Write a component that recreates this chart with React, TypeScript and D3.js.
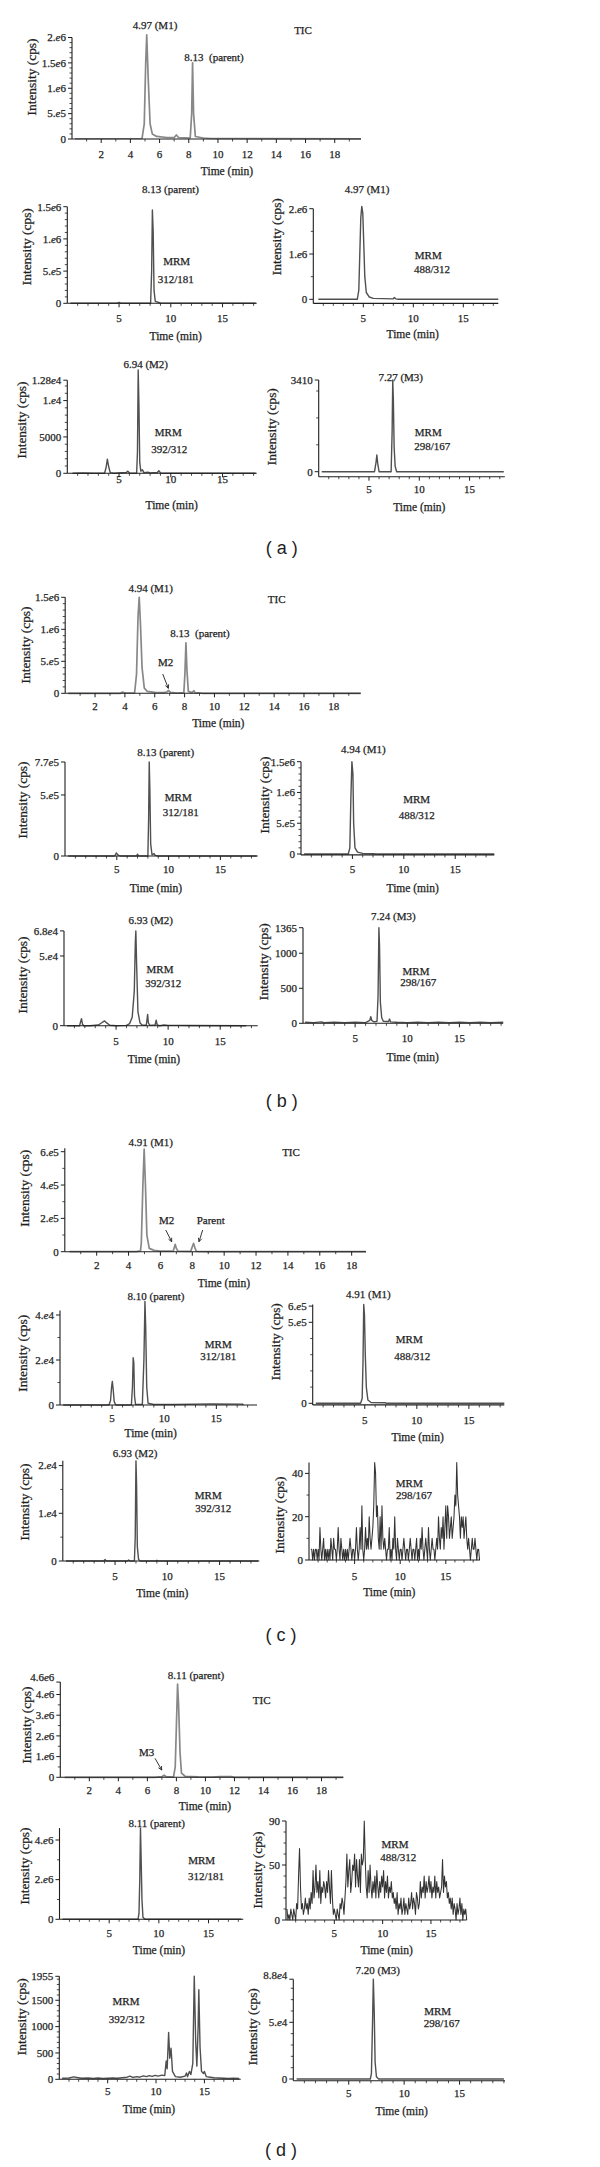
import React from 'react';
import * as d3 from 'd3';

type Pt = [number, number];

// ---------- DATA ----------
const ticXTicks = [2, 4, 6, 8, 10, 12, 14, 16, 18];
const mrmXTicks = [5, 10, 15];

// (a)
const aTic: Pt[] = [[0.2, 5e3], [4.8, 1e4], [4.95, 3e5], [5.05, 1.5e6], [5.12, 2.05e6], [5.22, 1.2e6], [5.35, 3e5], [5.5, 1e5], [5.8, 5e4], [6.5, 3e4], [7.0, 3e4], [7.15, 8e4], [7.3, 3e4], [8.1, 2e4], [8.2, 5e5], [8.26, 1.5e6], [8.33, 5e5], [8.45, 5e4], [9.0, 2e4], [9.5, 1e4], [19.8, 5e3]];
const aTicYTicks = [0, 5e5, 1e6, 1.5e6, 2e6];
const aTicYLabels = ['0', '5.e5', '1.e6', '1.5e6', '2.e6'];

const a312: Pt[] = [[0.3, 0], [4.8, 0], [5.0, 1.5e4], [5.2, 0], [8.05, 0], [8.15, 5e5], [8.22, 1.45e6], [8.3, 1.1e6], [8.38, 2e5], [8.5, 3e4], [9.0, 5e3], [18.2, 0]];
const a312YTicks = [0, 5e5, 1e6, 1.5e6];
const a312YLabels = ['0', '5.e5', '1.e6', '1.5e6'];

const a488: Pt[] = [[0.5, 0], [4.4, 0], [4.55, 2e5], [4.65, 1e6], [4.75, 1.8e6], [4.85, 2.05e6], [4.95, 1.9e6], [5.05, 1.2e6], [5.15, 5e5], [5.3, 1.5e5], [5.6, 5e4], [6.0, 2e4], [8.0, 1e4], [8.1, 4e4], [8.25, 1e4], [8.5, 0], [18.5, 0]];
const a488YTicks = [0, 1e6, 2e6];
const a488YLabels = ['0', '1.e6', '2.e6'];

const a392: Pt[] = [[0.5, 0], [1.5, 50], [2.5, 0], [3.6, 0], [3.75, 800], [3.87, 1950], [4.0, 900], [4.15, 100], [4.5, 0], [5.7, 100], [5.85, 300], [6.0, 50], [6.7, 0], [6.78, 3000], [6.85, 14200], [6.92, 9500], [7.0, 1500], [7.1, 300], [7.25, 500], [7.4, 100], [7.8, 150], [8.0, 50], [8.7, 100], [8.85, 350], [9.0, 50], [9.5, 0], [18.2, 0]];
const a392YTicks = [0, 5000, 1e4, 12800];
const a392YLabels = ['0', '5000', '1.e4', '1.28e4'];

const a298: Pt[] = [[0.3, 0], [5.55, 0], [5.7, 350], [5.78, 620], [5.87, 300], [6.0, 0], [7.2, 0], [7.3, 1500], [7.36, 3410], [7.42, 2700], [7.5, 900], [7.6, 200], [7.75, 0], [18.4, 0]];
const a298YTicks = [0, 3410];
const a298YLabels = ['0', '3410'];

// (b)
const bTic: Pt[] = [[0.2, 0], [3.7, 0], [3.85, 2e4], [4.0, 5e3], [4.65, 5e3], [4.78, 3e5], [4.88, 1.2e6], [4.96, 1.5e6], [5.04, 1.1e6], [5.15, 4e5], [5.3, 8e4], [5.5, 3e4], [6.0, 1.5e4], [6.6, 1e4], [6.8, 2e4], [6.92, 4.5e4], [7.05, 1.5e4], [7.5, 5e3], [7.95, 1e4], [8.02, 3e5], [8.09, 7.9e5], [8.16, 3.5e5], [8.25, 3e4], [8.5, 1e4], [8.62, 4e4], [8.7, 1e4], [9.1, 5e3], [9.2, 0], [19.8, 0]];
const bTicYTicks = [0, 5e5, 1e6, 1.5e6];
const bTicYLabels = ['0', '5.e5', '1.e6', '1.5e6'];

const b312: Pt[] = [[0.3, 0], [4.8, 0], [4.95, 2.5e4], [5.1, 1e4], [5.3, 0], [6.9, 0], [7.0, 1.5e4], [7.1, 0], [8.0, 0], [8.07, 3e5], [8.13, 7.7e5], [8.19, 5.5e5], [8.27, 1e5], [8.4, 1e4], [8.6, 2e4], [8.7, 5e3], [9.0, 0], [18.5, 0]];
const b312YTicks = [0, 5e5, 7.7e5];
const b312YLabels = ['0', '5.e5', '7.7e5'];

const b488: Pt[] = [[0.3, 0], [4.6, 0], [4.75, 1e5], [4.85, 9e5], [4.95, 1.5e6], [5.05, 1.3e6], [5.12, 5e5], [5.25, 1e5], [5.5, 3e4], [6.0, 1e4], [7.1, 5e3], [7.2, 0], [18.8, 0]];
const b488YTicks = [0, 5e5, 1e6, 1.5e6];
const b488YLabels = ['0', '5.e5', '1.e6', '1.5e6'];

const b392: Pt[] = [[0.3, 0], [1.5, 0], [1.6, 3000], [1.68, 5000], [1.78, 1000], [1.9, 0], [2.5, 0], [3.3, 500], [3.7, 2500], [3.9, 3400], [4.1, 2000], [4.4, 300], [5.0, 0], [6.0, 200], [6.3, 1500], [6.55, 6000], [6.75, 25000], [6.85, 60000], [6.9, 68000], [6.97, 45000], [7.1, 10000], [7.3, 2000], [7.5, 500], [7.9, 300], [7.98, 5000], [8.03, 8100], [8.1, 2000], [8.25, 200], [8.75, 500], [8.85, 4000], [8.95, 500], [9.2, 0], [9.6, 500], [10.0, 200], [11.0, 200], [12.0, 100], [17.5, 0]];
const b392YTicks = [0, 5e4, 6.8e4];
const b392YLabels = ['0', '5.e4', '6.8e4'];

const b298: Pt[] = [[0.2, 15], [1.0, 10], [1.8, 20], [2.0, 10], [3.0, 15], [4.0, 10], [5.0, 15], [6.0, 10], [6.4, 40], [6.5, 95], [6.6, 40], [6.8, 20], [7.1, 30], [7.2, 400], [7.28, 1365], [7.34, 1100], [7.42, 300], [7.55, 80], [7.7, 30], [8.2, 25], [8.3, 60], [8.4, 20], [9.0, 15], [10.0, 10], [11.0, 15], [12.0, 10], [13.0, 15], [14.0, 10], [15.0, 15], [16.0, 10], [17.0, 15], [18.0, 10], [19.2, 15]];
const b298YTicks = [0, 500, 1000, 1365];
const b298YLabels = ['0', '500', '1000', '1365'];

// (c)
const cTic: Pt[] = [[0.3, 0], [4.0, 0], [4.5, 300], [4.75, 5e3], [4.8, 5e4], [4.9, 4e5], [4.98, 6.15e5], [5.06, 4e5], [5.15, 1e5], [5.3, 2e4], [5.6, 8e3], [6.0, 3e3], [6.8, 3e3], [6.87, 2.5e4], [6.93, 4.4e4], [7.0, 2e4], [7.1, 3e3], [7.9, 2e3], [8.0, 3e4], [8.08, 5e4], [8.16, 2.5e4], [8.25, 2e3], [9.0, 0], [18.9, 0]];
const cTicYTicks = [0, 2e5, 4e5, 6e5];
const cTicYLabels = ['0', '2.e5', '4.e5', '6.e5'];

const c312: Pt[] = [[0.3, 0], [4.7, 0], [4.85, 2000], [4.95, 8000], [5.02, 10500], [5.1, 7000], [5.2, 1500], [5.35, 0], [6.85, 0], [6.95, 8000], [7.02, 21000], [7.08, 19000], [7.15, 4000], [7.25, 200], [7.9, 200], [8.05, 20000], [8.15, 46000], [8.22, 35000], [8.32, 8000], [8.45, 800], [9.0, 200], [11.0, 200], [14.5, 500], [17.5, 400], [17.6, 0]];
const c312YTicks = [0, 2e4, 4e4];
const c312YLabels = ['0', '2.e4', '4.e4'];

const c488: Pt[] = [[0.3, 0], [4.6, 0], [4.75, 3e4], [4.83, 2.5e5], [4.9, 6.1e5], [4.97, 5.5e5], [5.05, 3e5], [5.15, 1e5], [5.3, 2e4], [5.6, 5e3], [7.0, 3e3], [7.1, 0], [18.4, 0]];
const c488YTicks = [0, 5e5, 6e5];
const c488YLabels = ['0', '5.e5', '6.e5'];

const c392: Pt[] = [[0.3, 0], [3.9, 0], [4.05, 300], [4.15, 0], [6.2, 0], [6.3, 200], [6.4, 0], [6.85, 0], [6.93, 5000], [7.0, 21000], [7.06, 16000], [7.13, 3000], [7.25, 300], [7.4, 0], [8.9, 0], [9.0, 150], [9.1, 0], [18.7, 0]];
const c392YTicks = [0, 1e4, 2e4];
const c392YLabels = ['0', '1.e4', '2.e4'];

// noisy trace, sampled every 0.1 min starting at 0.2 min
const c298Start = 0.2;
const c298Step = 0.1;
const c298Values = [
  5, 5, 0, 5, 0, 5, 5, 0, 5, 0,
  15, 5, 0, 5, 10, 0, 5, 0, 5, 0,
  5, 0, 10, 5, 0, 10, 5, 5, 0, 5,
  15, 5, 0, 10, 5, 0, 5, 0, 5, 0,
  5, 0, 5, 10, 5, 0, 5, 5, 0, 5,
  15, 5, 0, 5, 15, 5, 25, 5, 0, 5,
  15, 5, 10, 5, 20, 10, 5, 10, 15, 25,
  45, 40, 20, 25, 10, 5, 20, 5, 25, 10,
  5, 10, 5, 0, 5, 5, 15, 0, 5, 0,
  10, 5, 20, 5, 0, 10, 5, 0, 5, 5,
  0, 5, 10, 5, 0, 5, 5, 0, 5, 10,
  5, 0, 5, 5, 0, 5, 10, 0, 5, 0,
  10, 5, 15, 5, 0, 5, 10, 5, 0, 15,
  5, 0, 5, 10, 5, 5, 0, 5, 10, 5,
  20, 10, 5, 15, 10, 20, 5, 15, 25, 10,
  25, 20, 10, 15, 20, 10, 15, 20, 30, 25,
  45, 30, 25, 20, 10, 20, 15, 20, 10, 15,
  20, 10, 5, 10, 5, 0, 5, 10, 5, 5,
  10, 5, 0, 5, 5, 0,
];
const c298YTicks = [0, 20, 40];
const c298YLabels = ['0', '20', '40'];

// (d)
const dTic: Pt[] = [[0.3, 0], [6.5, 0], [7.0, 3e4], [7.15, 1e5], [7.3, 3e4], [7.8, 1e4], [7.92, 5e5], [8.0, 2.5e6], [8.08, 4.5e6], [8.15, 3.5e6], [8.25, 1.2e6], [8.35, 2e5], [8.6, 5e4], [9.5, 2e4], [10.5, 1e4], [11.0, 3e4], [11.8, 3e4], [12.0, 0], [19.5, 0]];
const dTicYTicks = [0, 1e6, 2e6, 3e6, 4e6, 4.6e6];
const dTicYLabels = ['0', '1.e6', '2.e6', '3.e6', '4.e6', '4.6e6'];

const d312: Pt[] = [[0.3, 0], [7.9, 0], [8.0, 3e5], [8.08, 2e6], [8.15, 4.6e6], [8.22, 3e6], [8.3, 1e6], [8.4, 1e5], [8.6, 0], [18.3, 0]];
const d312YTicks = [0, 2e6, 4e6];
const d312YLabels = ['0', '2.e6', '4.e6'];

// noisy trace, sampled every 0.1 min starting at 0.1 min
const d488Start = 0.1;
const d488Step = 0.1;
const d488Values = [
  10, 0, 5, 0, 10, 5, 0, 10, 5, 0,
  15, 10, 40, 65, 30, 10, 15, 5, 10, 20,
  10, 15, 5, 20, 10, 25, 15, 45, 20, 30,
  50, 25, 35, 20, 45, 15, 30, 25, 35, 30,
  20, 35, 25, 45, 30, 15, 45, 20, 5, 10,
  5, 0, 10, 5, 0, 15, 10, 20, 15, 5,
  20, 35, 60, 30, 45, 55, 25, 35, 50, 45,
  60, 30, 55, 40, 30, 55, 25, 60, 50, 55,
  90, 55, 30, 20, 45, 25, 50, 30, 20, 35,
  25, 40, 20, 45, 30, 20, 35, 25, 40, 30,
  45, 20, 35, 25, 40, 20, 30, 25, 35, 20,
  25, 15, 20, 10, 25, 5, 15, 10, 20, 5,
  10, 20, 5, 15, 10, 5, 20, 10, 15, 25,
  10, 20, 15, 5, 25, 20, 10, 15, 35, 20,
  30, 25, 40, 20, 35, 25, 30, 40, 25, 35,
  20, 30, 25, 40, 20, 35, 25, 30, 20, 25,
  30, 55, 25, 40, 30, 35, 20, 25, 15, 20,
  10, 20, 5, 15, 10, 0, 15, 5, 10, 20,
  5, 15, 0, 10, 5, 10, 0,
];
const d488YTicks = [0, 50, 90];
const d488YLabels = ['0', '50', '90'];

const d392: Pt[] = [[0.3, 20], [1.0, 25], [1.5, 45], [1.8, 35], [2.3, 20], [3.0, 25], [3.5, 15], [4.0, 25], [4.5, 15], [5.0, 20], [5.5, 25], [6.0, 20], [6.5, 30], [7.0, 40], [7.3, 60], [7.6, 35], [8.0, 50], [8.3, 40], [8.7, 65], [9.0, 50], [9.3, 70], [9.6, 55], [9.9, 75], [10.2, 60], [10.6, 80], [10.9, 70], [11.05, 350], [11.15, 200], [11.3, 890], [11.42, 400], [11.55, 590], [11.7, 150], [12.0, 50], [12.5, 40], [13.0, 60], [13.15, 120], [13.25, 50], [13.45, 150], [13.6, 90], [13.8, 300], [13.95, 1955], [14.1, 700], [14.22, 250], [14.35, 1000], [14.42, 1700], [14.55, 600], [14.7, 150], [14.9, 110], [15.0, 150], [15.2, 50], [15.6, 40], [16.0, 30], [16.5, 25], [17.0, 20], [17.5, 15], [18.0, 20], [18.6, 15]];
const d392YTicks = [0, 500, 1000, 1500, 1955];
const d392YLabels = ['0', '500', '1000', '1500', '1955'];

const d298: Pt[] = [[0.3, 0], [6.95, 0], [7.05, 5000], [7.15, 50000], [7.22, 88000], [7.3, 60000], [7.38, 15000], [7.5, 2000], [7.7, 0], [19.0, 0]];
const d298YTicks = [0, 5e4, 8.8e4];
const d298YLabels = ['0', '5.e4', '8.8e4'];

// ---------- LAYOUT ----------
type Arrow = { t: number; v: number; dx: number; dy: number };
type PlotCfg = {
  trace: Pt[];
  kind: 'tic' | 'mrm' | 'noise';
  step?: boolean;
  xDomain: [number, number];
  xRange: [number, number];
  xTicks: number[];
  y0: number;
  yTop: number;
  yTopVal: number;
  yAxisMax: number;
  yAxisMin?: number;
  yTicks: number[];
  yLabels: string[];
  yMinor: number | null;
  tickLabelY: number;
  timeLabel: [number, number];
  yLabel: [number, number];
  texts: [string, number, number][];
  arrows?: Arrow[];
  topLabelDy?: number;
};

const toSeries = (start: number, step: number, vals: number[]): Pt[] => vals.map((v, i) => [start + i * step, v]);

const plots: PlotCfg[] = [
  // (a)
  { trace: aTic, kind: 'tic', xDomain: [0, 19.8], xRange: [72, 361], xTicks: ticXTicks, y0: 139, yTop: 37.5, yTopVal: 2e6, yAxisMax: 2e6, yTicks: aTicYTicks, yLabels: aTicYLabels, yMinor: 1e5, tickLabelY: 158, timeLabel: [227, 175], yLabel: [32, 77], texts: [['4.97 (M1)', 155, 29], ['8.13  (parent)', 214, 61], ['TIC', 303, 34]] },
  { trace: a312, kind: 'mrm', xDomain: [0, 18.3], xRange: [67.3, 256.7], xTicks: mrmXTicks, y0: 303.3, yTop: 206.7, yTopVal: 1.5e6, yAxisMax: 1.5e6, yTicks: a312YTicks, yLabels: a312YLabels, yMinor: 1e5, tickLabelY: 322, timeLabel: [175.7, 339.7], yLabel: [26.7, 246.7], texts: [['8.13 (parent)', 170.5, 193], ['MRM', 176.7, 264.7], ['312/181', 175.7, 283]] },
  { trace: a488, kind: 'mrm', xDomain: [0, 18.5], xRange: [313.3, 498.3], xTicks: mrmXTicks, y0: 299.3, yTop: 208.7, yTopVal: 2e6, yAxisMax: 2e6, yAxisMin: -9e4, yTicks: a488YTicks, yLabels: a488YLabels, yMinor: 5e5, tickLabelY: 321.7, timeLabel: [412.7, 338], yLabel: [276.7, 236.7], texts: [['4.97 (M1)', 367, 193], ['MRM', 428.3, 259], ['488/312', 432, 273]] },
  { trace: a392, kind: 'mrm', xDomain: [0, 18.3], xRange: [67.3, 256.7], xTicks: mrmXTicks, y0: 473.3, yTop: 380.2, yTopVal: 12800, yAxisMax: 12800, yTicks: a392YTicks, yLabels: a392YLabels, yMinor: 1000, tickLabelY: 483, timeLabel: [171.7, 509], yLabel: [22.3, 420], texts: [['6.94 (M2)', 145.7, 368], ['MRM', 168.3, 436.3], ['392/312', 169.3, 453]] },
  { trace: a298, kind: 'mrm', xDomain: [0, 18.5], xRange: [318.7, 504.8], xTicks: mrmXTicks, y0: 471.7, yTop: 380, yTopVal: 3410, yAxisMax: 3410, yAxisMin: -186, yTicks: a298YTicks, yLabels: a298YLabels, yMinor: 1000, tickLabelY: 493, timeLabel: [419.3, 510.7], yLabel: [271.7, 426.7], texts: [['7.27 (M3)', 400.7, 380.7], ['MRM', 428.3, 436.3], ['298/167', 432.3, 449.7]] },
  // (b)
  { trace: bTic, kind: 'tic', xDomain: [0, 19.8], xRange: [65.2, 360.7], xTicks: ticXTicks, y0: 693.3, yTop: 597.3, yTopVal: 1.5e6, yAxisMax: 1.5e6, yTicks: bTicYTicks, yLabels: bTicYLabels, yMinor: 1e5, tickLabelY: 710, timeLabel: [218.3, 727.3], yLabel: [26, 645], texts: [['4.94 (M1)', 150.7, 592.3], ['TIC', 276.7, 603], ['8.13  (parent)', 200, 637.3], ['M2', 165.7, 666.3]], arrows: [{ t: 6.91, v: 7.8e4, dx: -5.6, dy: -14.3 }] },
  { trace: b312, kind: 'mrm', xDomain: [0, 18.6], xRange: [65, 257.7], xTicks: mrmXTicks, y0: 856, yTop: 762, yTopVal: 7.7e5, yAxisMax: 7.7e5, yTicks: b312YTicks, yLabels: b312YLabels, yMinor: null, tickLabelY: 873.3, timeLabel: [156, 892.3], yLabel: [23.3, 800], texts: [['8.13 (parent)', 165.7, 755.7], ['MRM', 178.3, 800.7], ['312/181', 180.7, 815.7]] },
  { trace: b488, kind: 'mrm', xDomain: [0, 18.8], xRange: [301, 494.3], xTicks: mrmXTicks, y0: 854, yTop: 761.7, yTopVal: 1.5e6, yAxisMax: 1.5e6, yAxisMin: -1.5e4, yTicks: b488YTicks, yLabels: b488YLabels, yMinor: 1e5, tickLabelY: 873.3, timeLabel: [412.7, 892], yLabel: [265, 795], texts: [['4.94 (M1)', 363.3, 753], ['MRM', 416.7, 803], ['488/312', 416.7, 819]] },
  { trace: b392, kind: 'mrm', xDomain: [0, 18.6], xRange: [64, 257.7], xTicks: mrmXTicks, y0: 1025.7, yTop: 930.9, yTopVal: 6.8e4, yAxisMax: 6.8e4, yTicks: b392YTicks, yLabels: b392YLabels, yMinor: null, tickLabelY: 1044.7, timeLabel: [154, 1063.3], yLabel: [22.7, 975], texts: [['6.93 (M2)', 150.7, 924], ['MRM', 160, 973], ['392/312', 163.3, 986.7]] },
  { trace: b298, kind: 'mrm', xDomain: [0, 19.2], xRange: [303, 503.2], xTicks: mrmXTicks, y0: 1023.3, yTop: 927.7, yTopVal: 1365, yAxisMax: 1365, yTicks: b298YTicks, yLabels: b298YLabels, yMinor: null, tickLabelY: 1041.7, timeLabel: [412.7, 1060.7], yLabel: [264.3, 961.7], texts: [['7.24 (M3)', 393.3, 920], ['MRM', 416, 974.7], ['298/167', 418.3, 986.3]] },
  // (c)
  { trace: cTic, kind: 'tic', xDomain: [0, 18.9], xRange: [64.8, 366], xTicks: ticXTicks, y0: 1251.7, yTop: 1151.7, yTopVal: 6e5, yAxisMax: 6.2e5, yTicks: cTicYTicks, yLabels: cTicYLabels, yMinor: 1e5, tickLabelY: 1269, timeLabel: [224, 1286.7], yLabel: [25, 1188.3], texts: [['4.91 (M1)', 150.7, 1146.3], ['TIC', 291, 1155.7], ['M2', 166.7, 1224], ['Parent', 210.7, 1224]], arrows: [{ t: 6.71, v: 6e4, dx: -6, dy: -11.7 }, { t: 8.42, v: 6e4, dx: 3.7, dy: -11.7 }] },
  { trace: c312, kind: 'mrm', xDomain: [0, 18.9], xRange: [60, 257], xTicks: mrmXTicks, y0: 1405, yTop: 1315, yTopVal: 4e4, yAxisMax: 4.2e4, yTicks: c312YTicks, yLabels: c312YLabels, yMinor: 1e4, tickLabelY: 1422.3, timeLabel: [150.7, 1436.7], yLabel: [22.7, 1353.3], texts: [['8.10 (parent)', 156, 1300], ['MRM', 218.3, 1348.3], ['312/181', 218.3, 1359.7]] },
  { trace: c488, kind: 'mrm', xDomain: [0, 18.4], xRange: [312.7, 504.3], xTicks: mrmXTicks, y0: 1403.3, yTop: 1322.3, yTopVal: 5e5, yAxisMax: 6.1e5, yAxisMin: -1e4, yTicks: c488YTicks, yLabels: c488YLabels, yMinor: 1e5, tickLabelY: 1424, timeLabel: [417.7, 1440.7], yLabel: [276, 1341.7], texts: [['4.91 (M1)', 368.3, 1298], ['MRM', 409.3, 1343], ['488/312', 412.3, 1359.7]] },
  { trace: c392, kind: 'mrm', xDomain: [0, 18.8], xRange: [62.8, 259.3], xTicks: mrmXTicks, y0: 1561, yTop: 1465.6, yTopVal: 2e4, yAxisMax: 2.1e4, yTicks: c392YTicks, yLabels: c392YLabels, yMinor: 5000, tickLabelY: 1579.7, timeLabel: [162.3, 1597.3], yLabel: [25, 1502], texts: [['6.93 (M2)', 135, 1457.3], ['MRM', 208.3, 1499], ['392/312', 213.3, 1512.3]] },
  { trace: toSeries(c298Start, c298Step, c298Values), kind: 'noise', xDomain: [0, 18.75], xRange: [309, 480], xTicks: mrmXTicks, y0: 1560, yTop: 1473.4, yTopVal: 40, yAxisMax: 45, yTicks: c298YTicks, yLabels: c298YLabels, yMinor: 10, tickLabelY: 1579.7, timeLabel: [389.3, 1596.3], yLabel: [280, 1515], texts: [['MRM', 409.3, 1486.7], ['298/167', 414, 1499]] },
  // (d)
  { trace: dTic, kind: 'tic', xDomain: [0, 19.5], xRange: [60.3, 343.3], xTicks: ticXTicks, y0: 1777.3, yTop: 1694.5, yTopVal: 4e6, yAxisMax: 4.6e6, yTicks: dTicYTicks, yLabels: dTicYLabels, yMinor: 5e5, tickLabelY: 1794, timeLabel: [205, 1809.7], yLabel: [27.3, 1725], texts: [['8.11 (parent)', 196, 1679], ['TIC', 261.7, 1704], ['M3', 146.7, 1756.3]], arrows: [{ t: 6.99, v: 3.5e5, dx: -6.7, dy: -11.7 }], topLabelDy: -5 },
  { trace: d312, kind: 'mrm', xDomain: [0, 18.5], xRange: [59.5, 243.3], xTicks: mrmXTicks, y0: 1919.3, yTop: 1840, yTopVal: 4e6, yAxisMax: 4.6e6, yTicks: d312YTicks, yLabels: d312YLabels, yMinor: 1e6, tickLabelY: 1937.3, timeLabel: [159, 1954], yLabel: [25, 1866], texts: [['8.11 (parent)', 156.7, 1826.7], ['MRM', 201.7, 1864], ['312/181', 206, 1879.7]] },
  { trace: toSeries(d488Start, d488Step, d488Values), kind: 'noise', xDomain: [0, 18.7], xRange: [286, 466.7], xTicks: mrmXTicks, y0: 1920, yTop: 1821, yTopVal: 90, yAxisMax: 90, yTicks: d488YTicks, yLabels: d488YLabels, yMinor: 10, tickLabelY: 1936.7, timeLabel: [386.7, 1954], yLabel: [258, 1870], texts: [['MRM', 395, 1848.3], ['488/312', 398.3, 1860.7]] },
  { trace: d392, kind: 'mrm', xDomain: [0, 18.75], xRange: [59.3, 240.7], xTicks: mrmXTicks, y0: 2079.3, yTop: 1976.3, yTopVal: 1955, yAxisMax: 1955, yTicks: d392YTicks, yLabels: d392YLabels, yMinor: 100, tickLabelY: 2095, timeLabel: [149, 2113.3], yLabel: [21.7, 2016.7], texts: [['MRM', 126, 2005], ['392/312', 126.7, 2023.3]] },
  { trace: d298, kind: 'mrm', xDomain: [0, 19.1], xRange: [293.3, 505], xTicks: mrmXTicks, y0: 2079, yTop: 1979.2, yTopVal: 8.8e4, yAxisMax: 8.8e4, yAxisMin: -1500, yTicks: d298YTicks, yLabels: d298YLabels, yMinor: 1e4, tickLabelY: 2097, timeLabel: [401.7, 2114.7], yLabel: [253.3, 2026.7], texts: [['7.20 (M3)', 377.7, 1974], ['MRM', 437.7, 2015], ['298/167', 441.7, 2027.3]], topLabelDy: -4 },
];

const captions: [string, number, number][] = [
  ['( a )', 281.7, 554],
  ['( b )', 281.7, 1107],
  ['( c )', 281, 1641],
  ['( d )', 281, 2156],
];

const SERIF = '"Liberation Serif", "Times New Roman", serif';
const INK = '#1e1e1e';
const textThick = { stroke: INK, strokeWidth: 0.25 };

function TickLabel({ s }: { s: string }) {
  const i = s.indexOf('e');
  if (i < 0) return <>{s}</>;
  return (
    <>
      {s.slice(0, i)}
      <tspan fontStyle="italic">e</tspan>
      {s.slice(i + 1)}
    </>
  );
}

function Plot({ p }: { p: PlotCfg }) {
  const x = d3.scaleLinear().domain(p.xDomain).range(p.xRange);
  const y = d3.scaleLinear().domain([0, p.yTopVal]).range([p.y0, p.yTop]);
  const line = d3
    .line<Pt>()
    .x((d) => x(d[0]))
    .y((d) => y(d[1]))
    .curve(p.step ? d3.curveStepAfter : d3.curveLinear);
  const axisY = y(p.yAxisMin ?? 0);
  const left = p.xRange[0];
  const right = p.xRange[1];
  const yTopPx = y(p.yAxisMax);
  const minorY = p.yMinor
    ? d3.range(p.yMinor, p.yAxisMax + 1e-9, p.yMinor).filter((v) => !p.yTicks.some((t) => Math.abs(t - v) < p.yMinor! * 0.3))
    : [];
  const minorX = d3.range(1, Math.floor(p.xDomain[1]) + 1).filter((v) => !p.xTicks.includes(v));
  const stroke = p.kind === 'tic' ? '#888' : p.kind === 'noise' ? '#333' : '#505050';
  const sw = p.kind === 'tic' ? 1.7 : p.kind === 'noise' ? 1.05 : 1.4;
  return (
    <g>
      <path d={line(p.trace) ?? ''} fill="none" stroke={stroke} strokeWidth={sw} strokeLinejoin="round" />
      {/* axes */}
      <line x1={left} x2={left} y1={axisY} y2={yTopPx} stroke={INK} strokeWidth={1.1} />
      <line x1={left} x2={right} y1={axisY} y2={axisY} stroke={INK} strokeWidth={1.1} />
      {p.yTicks.map((t, i) => (
        <g key={'yt' + i}>
          <line x1={left - 4} x2={left} y1={y(t)} y2={y(t)} stroke={INK} strokeWidth={1} />
          <text
            x={left - 6}
            y={y(t) + 3.8 + (i === p.yTicks.length - 1 && p.topLabelDy ? p.topLabelDy : 0)}
            textAnchor="end"
            fontSize={11}
            fontFamily={SERIF}
            fill={INK}
            {...textThick}
          >
            <TickLabel s={p.yLabels[i]} />
          </text>
        </g>
      ))}
      {minorY.map((v, i) => (
        <line key={'ym' + i} x1={left - 2.5} x2={left} y1={y(v)} y2={y(v)} stroke={INK} strokeWidth={0.8} />
      ))}
      {p.xTicks.map((t, i) => (
        <g key={'xt' + i}>
          <line x1={x(t)} x2={x(t)} y1={axisY} y2={axisY + 4} stroke={INK} strokeWidth={1} />
          <text x={x(t)} y={p.tickLabelY} textAnchor="middle" fontSize={11} fontFamily={SERIF} fill={INK} {...textThick}>
            {t}
          </text>
        </g>
      ))}
      {minorX.map((v, i) => (
        <line key={'xm' + i} x1={x(v)} x2={x(v)} y1={axisY} y2={axisY + 2.5} stroke={INK} strokeWidth={0.8} />
      ))}
      <text x={p.timeLabel[0]} y={p.timeLabel[1]} textAnchor="middle" fontSize={11.5} fontFamily={SERIF} fill={INK} {...textThick}>
        Time (min)
      </text>
      <text
        transform={`translate(${p.yLabel[0]},${p.yLabel[1]}) rotate(-90)`}
        y={4}
        textAnchor="middle"
        fontSize={11.5}
        fontFamily={SERIF}
        fill={INK}
        textLength={77}
        lengthAdjust="spacingAndGlyphs"
        {...textThick}
      >
        Intensity (cps)
      </text>
      {p.texts.map(([s, tx, ty], i) => (
        <text key={'tx' + i} x={tx} y={ty} textAnchor="middle" fontSize={11} fontFamily={SERIF} fill={INK} style={{ whiteSpace: 'pre' }} {...textThick}>
          {s}
        </text>
      ))}
      {(p.arrows ?? []).map((a, i) => {
        const tx = x(a.t);
        const ty = y(a.v);
        const ang = Math.atan2(-a.dy, -a.dx);
        const hl = 4;
        const h1 = [tx - hl * Math.cos(ang - 0.45), ty - hl * Math.sin(ang - 0.45)];
        const h2 = [tx - hl * Math.cos(ang + 0.45), ty - hl * Math.sin(ang + 0.45)];
        return (
          <g key={'ar' + i} stroke={INK} strokeWidth={0.9} fill="none">
            <line x1={tx + a.dx} y1={ty + a.dy} x2={tx} y2={ty} />
            <polyline points={`${h1[0]},${h1[1]} ${tx},${ty} ${h2[0]},${h2[1]}`} />
          </g>
        );
      })}
    </g>
  );
}

export default function App() {
  return (
    <svg
      width={600}
      height={2167}
      viewBox="0 0 600 2167"
      style={{ position: 'absolute', left: 0, top: 0, display: 'block', background: '#fff' }}
    >
      <rect x={0} y={0} width={600} height={2167} fill="#fff" />
      {plots.map((p, i) => (
        <Plot key={i} p={p} />
      ))}
      {captions.map(([s, cx, cy], i) => (
        <text key={'cap' + i} x={cx} y={cy} textAnchor="middle" fontSize={18} fontFamily='"Liberation Sans", Arial, sans-serif' fill={INK} style={{ whiteSpace: 'pre' }}>
          {s}
        </text>
      ))}
    </svg>
  );
}
